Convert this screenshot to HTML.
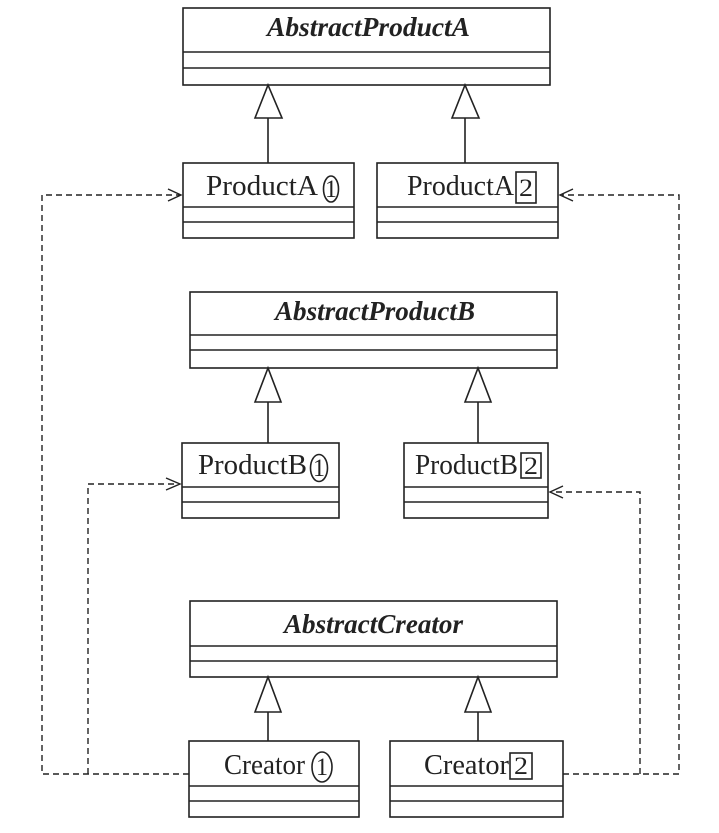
<!DOCTYPE html>
<html><head><style>
html,body{margin:0;padding:0;background:#fff;}
svg{display:block;}
text{font-family:"Liberation Serif",serif;font-size:29px;fill:#222;}
.it{font-style:italic;font-weight:bold;font-size:27px;}
.n{font-size:25px;}
</style></head><body>
<svg width="719" height="833" viewBox="0 0 719 833" xmlns="http://www.w3.org/2000/svg">
<g fill="none" stroke="#222" stroke-width="1.6">
<rect x="183" y="8" width="367" height="77"/><line x1="183" y1="52" x2="550" y2="52"/><line x1="183" y1="68" x2="550" y2="68"/>
<rect x="183" y="163" width="171" height="75"/><line x1="183" y1="207" x2="354" y2="207"/><line x1="183" y1="222" x2="354" y2="222"/>
<rect x="377" y="163" width="181" height="75"/><line x1="377" y1="207" x2="558" y2="207"/><line x1="377" y1="222" x2="558" y2="222"/>
<polygon points="268,85 255,118 282,118"/><line x1="268" y1="118" x2="268" y2="163"/>
<polygon points="465,85 452,118 479,118"/><line x1="465" y1="118" x2="465" y2="163"/>
<rect x="190" y="292" width="367" height="76"/><line x1="190" y1="335" x2="557" y2="335"/><line x1="190" y1="350" x2="557" y2="350"/>
<rect x="182" y="443" width="157" height="75"/><line x1="182" y1="487" x2="339" y2="487"/><line x1="182" y1="502" x2="339" y2="502"/>
<rect x="404" y="443" width="144" height="75"/><line x1="404" y1="487" x2="548" y2="487"/><line x1="404" y1="502" x2="548" y2="502"/>
<polygon points="268,368 255,402 281,402"/><line x1="268" y1="402" x2="268" y2="443"/>
<polygon points="478,368 465,402 491,402"/><line x1="478" y1="402" x2="478" y2="443"/>
<rect x="190" y="601" width="367" height="76"/><line x1="190" y1="646" x2="557" y2="646"/><line x1="190" y1="661" x2="557" y2="661"/>
<rect x="189" y="741" width="170" height="76"/><line x1="189" y1="786" x2="359" y2="786"/><line x1="189" y1="801" x2="359" y2="801"/>
<rect x="390" y="741" width="173" height="76"/><line x1="390" y1="786" x2="563" y2="786"/><line x1="390" y1="801" x2="563" y2="801"/>
<polygon points="268,677 255,712 281,712"/><line x1="268" y1="712" x2="268" y2="741"/>
<polygon points="478,677 465,712 491,712"/><line x1="478" y1="712" x2="478" y2="741"/>
<ellipse cx="331" cy="189" rx="7.5" ry="13"/><rect x="516" y="172" width="20" height="31"/>
<ellipse cx="319" cy="468" rx="8.5" ry="13.5"/><rect x="521" y="453" width="20" height="25"/>
<ellipse cx="322" cy="767" rx="10" ry="15"/><rect x="510" y="753" width="22" height="26"/>
</g>
<g fill="none" stroke="#222" stroke-width="1.4" stroke-dasharray="6,4">
<polyline points="189,774 42,774 42,195 180,195"/>
<polyline points="88,774 88,484 178,484"/>
<polyline points="563,774 679,774 679,195 562,195"/>
<polyline points="640,774 640,492 552,492"/>
</g>
<g fill="none" stroke="#222" stroke-width="1.4">
<polyline points="168,189 181,195 168,201"/>
<polyline points="166,478 180,484 166,490"/>
<polyline points="573,189 560,195 573,201"/>
<polyline points="563,486 550,492 563,498"/>
</g>
<text class="it" x="267" y="36" textLength="203" lengthAdjust="spacingAndGlyphs">AbstractProductA</text>
<text class="it" x="275" y="320" textLength="200" lengthAdjust="spacingAndGlyphs">AbstractProductB</text>
<text class="it" x="284" y="633" textLength="179" lengthAdjust="spacingAndGlyphs">AbstractCreator</text>
<text x="206" y="195" textLength="112" lengthAdjust="spacingAndGlyphs">ProductA</text><text class="n" x="325" y="197" textLength="12" lengthAdjust="spacingAndGlyphs">1</text>
<text x="407" y="195" textLength="107" lengthAdjust="spacingAndGlyphs">ProductA</text><text class="n" x="519" y="196" textLength="14" lengthAdjust="spacingAndGlyphs">2</text>
<text x="198" y="474" textLength="109" lengthAdjust="spacingAndGlyphs">ProductB</text><text class="n" x="313" y="476" textLength="12" lengthAdjust="spacingAndGlyphs">1</text>
<text x="415" y="474" textLength="103" lengthAdjust="spacingAndGlyphs">ProductB</text><text class="n" x="524" y="474" textLength="14" lengthAdjust="spacingAndGlyphs">2</text>
<text x="224" y="774" textLength="81" lengthAdjust="spacingAndGlyphs">Creator</text><text class="n" x="316" y="775" textLength="12" lengthAdjust="spacingAndGlyphs">1</text>
<text x="424" y="774" textLength="85" lengthAdjust="spacingAndGlyphs">Creator</text><text class="n" x="514" y="774" textLength="14" lengthAdjust="spacingAndGlyphs">2</text>
</svg>
</body></html>
